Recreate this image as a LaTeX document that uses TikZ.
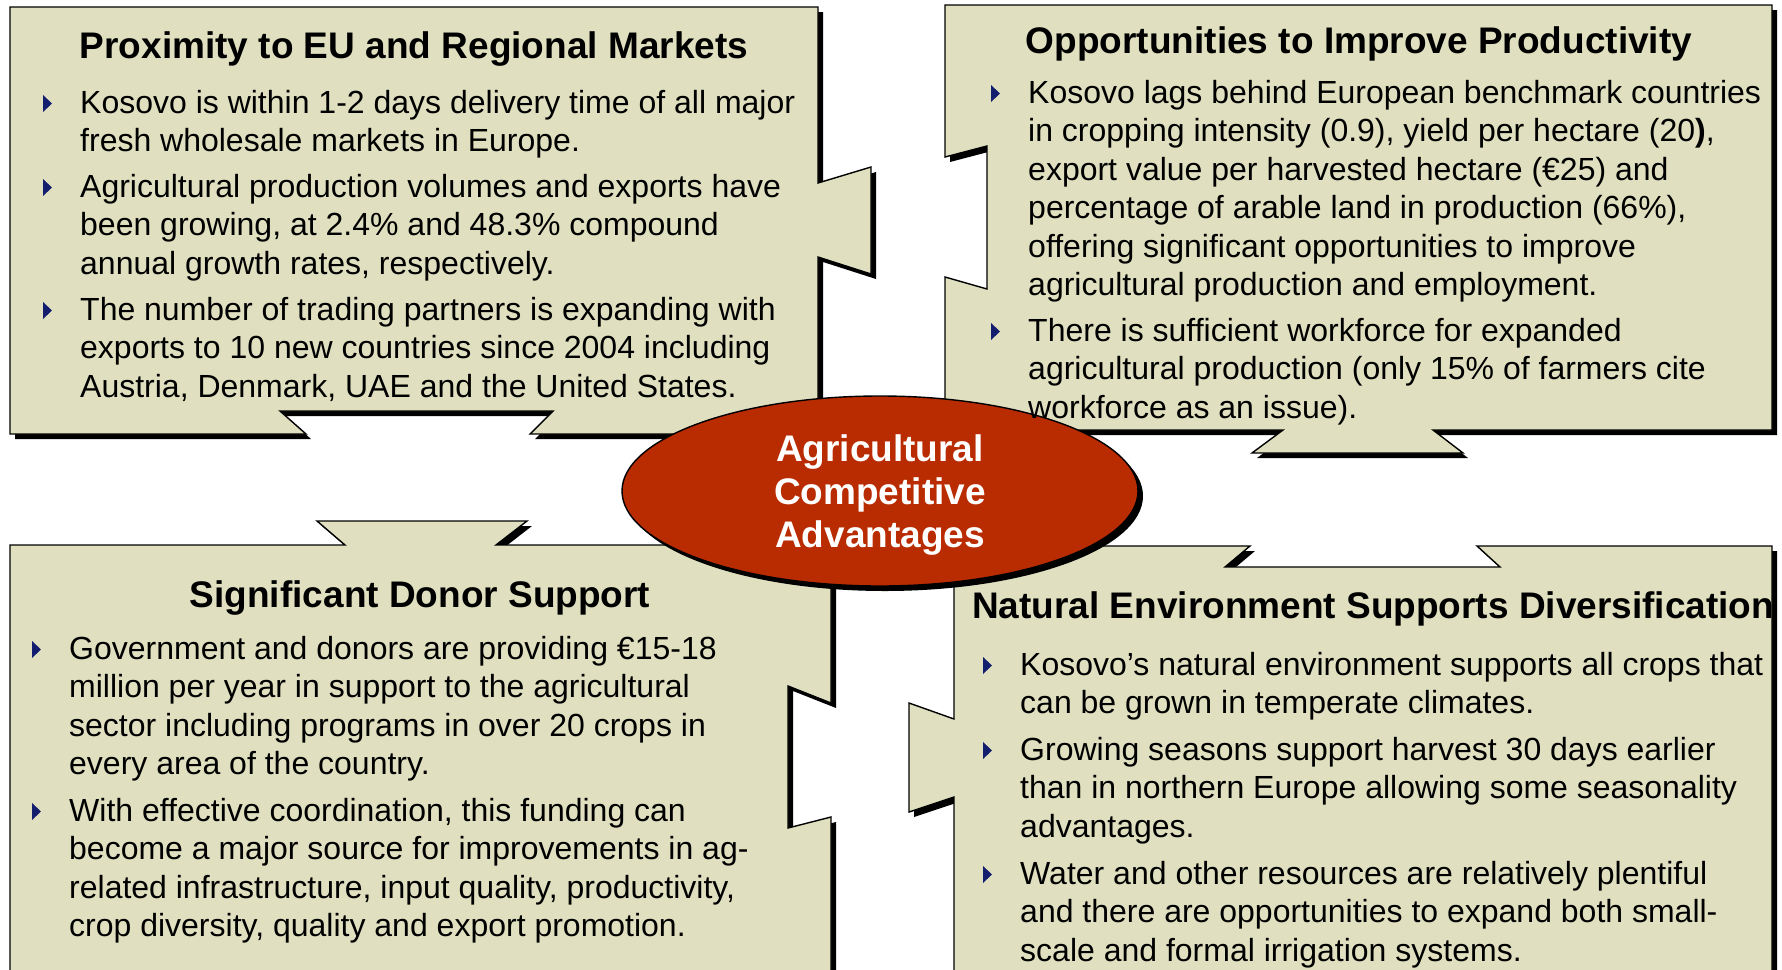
\documentclass[tikz,border=0pt]{standalone}
\usepackage{fontspec}
\setmainfont{Liberation Sans}
\usetikzlibrary{shapes.geometric,shadows}
\definecolor{panelfill}{RGB}{224,224,192}
\definecolor{hubred}{RGB}{185,43,0}
\definecolor{bulletnavy}{RGB}{20,30,110}
\tikzset{
  panel/.style={draw=black,line width=1.4pt,fill=panelfill,
    drop shadow={shadow xshift=5pt,shadow yshift=-5pt,opacity=1,fill=black}},
  panel title/.style={anchor=base,inner sep=0pt,font=\bfseries\fontsize{37}{44}\selectfont},
  panel text/.style={anchor=north west,align=left,inner sep=0pt,font=\fontsize{32}{38.5}\selectfont},
  bullet mark/.style={fill=bulletnavy},
  hub/.style={ellipse,draw=black,line width=1.4pt,fill=hubred,
    minimum width=516pt,minimum height=190pt,inner sep=0pt,align=center,
    text=white,text depth=-1.5pt,font=\bfseries\fontsize{37}{43}\selectfont,
    drop shadow={shadow xshift=5pt,shadow yshift=-5pt,opacity=1,fill=black}}
}

\begin{document}
\begin{tikzpicture}[x=1pt,y=-1pt]
  \useasboundingbox (0,0) rectangle (1782,969);

  % the four panels
  \path[panel] (10,7) -- (818,7) -- (818,183) -- (871,167) -- (871,274)
    -- (818,257) -- (818,434) -- (530,434) -- (553,411) -- (280,411)
    -- (306,434) -- (10,434) -- cycle;
  \path[panel] (945,5) -- (1772,5) -- (1772,430) -- (1433,430) -- (1463,453)
    -- (1252,453) -- (1283,430) -- (945,430) -- (945,277) -- (987,289)
    -- (987,146) -- (945,157) -- cycle;
  \path[panel] (10,545) -- (345,545) -- (317,521) -- (527,521) -- (496,545)
    -- (831,545) -- (831,703) -- (788,686) -- (788,828) -- (831,817)
    -- (831,1000) -- (10,1000) -- cycle;
  \path[panel] (954,546) -- (1250,546) -- (1225,567) -- (1500,567) -- (1477,546)
    -- (1772,546) -- (1772,1000) -- (954,1000) -- (954,797) -- (909,812)
    -- (909,703) -- (954,719) -- cycle;

  \node[hub] (hub) at (880,491) {Agricultural\\Competitive\\Advantages};

  % top left
  \node[panel title] (tltitle) at (414,58) {Proximity to EU and Regional Markets};
  \node[panel text] (tl1) at (80,90) {Kosovo is within 1-2 days delivery time of all major\\fresh wholesale markets in Europe.};
  \node[panel text] (tl2) at (80,174) {Agricultural production volumes and exports have\\been growing, at 2.4\% and 48.3\% compound\\annual growth rates, respectively.};
  \node[panel text] (tl3) at (80,297) {The number of trading partners is expanding with\\exports to 10 new countries since 2004 including\\Austria, Denmark, UAE and the United States.};

  % top right
  \node[panel title] (trtitle) at (1359,53) {Opportunities to Improve Productivity};
  \node[panel text] (tr1) at (1028,80) {Kosovo lags behind European benchmark countries\\in cropping intensity (0.9), yield per hectare (20\textbf{)},\\export value per harvested hectare (€25) and\\percentage of arable land in production (66\%),\\offering significant opportunities to improve\\agricultural production and employment.};
  \node[panel text] (tr2) at (1028,318) {There is sufficient workforce for expanded\\agricultural production (only 15\% of farmers cite\\workforce as an issue).};

  % bottom left
  \node[panel title] (bltitle) at (420,607) {Significant Donor Support};
  \node[panel text] (bl1) at (69,636) {Government and donors are providing €15-18\\million per year in support to the agricultural\\sector including programs in over 20 crops in\\every area of the country.};
  \node[panel text] (bl2) at (69,798) {With effective coordination, this funding can\\become a major source for improvements in ag-\\related infrastructure, input quality, productivity,\\crop diversity, quality and export promotion.};

  % bottom right
  \node[panel title,anchor=base west] (brtitle) at (972,618) {Natural Environment Supports Diversification};
  \node[panel text] (br1) at (1020,652) {Kosovo’s natural environment supports all crops that\\can be grown in temperate climates.};
  \node[panel text] (br2) at (1020,737) {Growing seasons support harvest 30 days earlier\\than in northern Europe allowing some seasonality\\advantages.};
  \node[panel text] (br3) at (1020,861) {Water and other resources are relatively plentiful\\and there are opportunities to expand both small-\\scale and formal irrigation systems.};

  \foreach \p in {tl1,tl2,tl3,tr1,tr2,bl1,bl2,br1,br2,br3}
    \fill[bullet mark] ([shift={(-37,5)}]\p.north west) -- ++(0,17) -- ++(9,-8.5) -- cycle;
\end{tikzpicture}
\end{document}
